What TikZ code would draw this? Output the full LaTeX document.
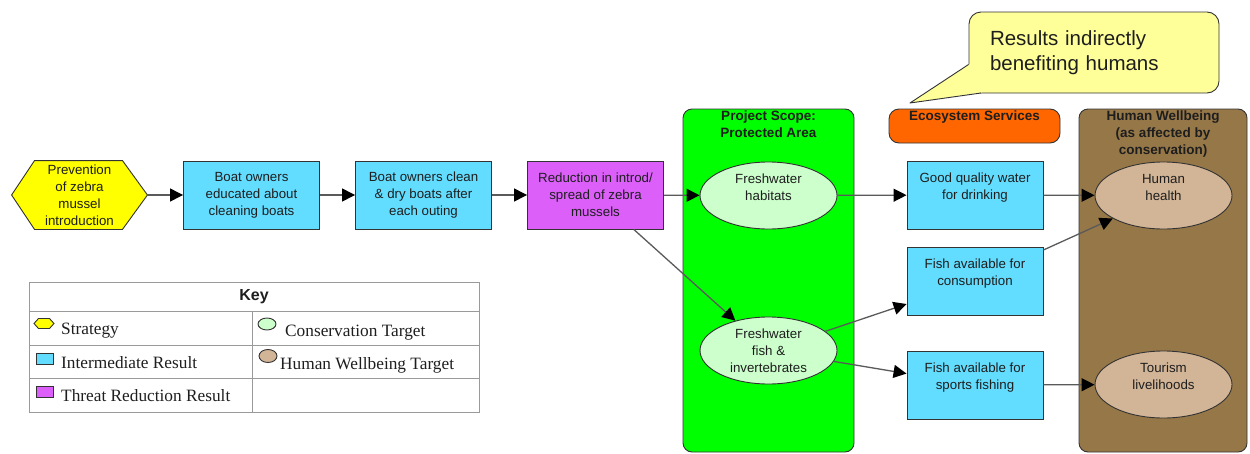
\documentclass[tikz,border=0pt]{standalone}
\usepackage{fontspec}
\setmainfont{Liberation Serif}
\setsansfont{Liberation Sans}
\usetikzlibrary{arrows.meta,calc,shapes.geometric,backgrounds}

\definecolor{stratyellow}{HTML}{FFFF00}
\definecolor{resblue}{HTML}{63DDFF}
\definecolor{threatpink}{HTML}{DC5FFA}
\definecolor{scopegreen}{HTML}{00FF00}
\definecolor{targetgreen}{HTML}{CCFFCC}
\definecolor{ecoorange}{HTML}{FF6600}
\definecolor{wellbrown}{HTML}{967748}
\definecolor{welltan}{HTML}{D2B496}
\definecolor{calloutyellow}{HTML}{FFFF99}
\definecolor{edgegray}{HTML}{333333}
\definecolor{linkgray}{HTML}{5A5A5A}
\definecolor{keygray}{HTML}{9A9A9A}
\definecolor{inktext}{HTML}{1E1E1E}

\begin{document}
\begin{tikzpicture}[x=1pt,y=-1pt,
  base/.style={draw=edgegray, line width=0.9pt, align=center, inner sep=0pt,
    text=inktext, font=\sffamily\fontsize{13.3}{17}\selectfont},
  result/.style={base, rectangle, fill=resblue, minimum width=136pt, minimum height=68pt},
  threat/.style={result, fill=threatpink},
  target/.style={base, ellipse, fill=targetgreen, minimum width=137pt, minimum height=67pt},
  wellbeing/.style={target, fill=welltan},
  region/.style={draw=edgegray, line width=0.9pt, rounded corners=9pt, inner sep=0pt},
  regiontitle/.style={align=center, inner sep=2pt, text=inktext,
    font=\sffamily\bfseries\fontsize{13.5}{17}\selectfont},
  link/.style={draw=linkgray, line width=1.3pt,
    -{Triangle[length=13pt,width=13pt,color=black]}},
  keytext/.style={anchor=base west, inner sep=0pt, text=inktext,
    font=\rmfamily\fontsize{17.3}{20}\selectfont},
  keyicon/.style={draw=edgegray, line width=0.9pt}
]
\useasboundingbox (0,0) rectangle (1250,453);

% grouping regions
\node[region, fill=scopegreen, minimum width=171pt, minimum height=343pt] (scope) at (768.5,280.5) {};
\node[regiontitle, anchor=north] (scopetitle) at (scope.north) {Project Scope:\\Protected Area};
\node[region, fill=ecoorange, rounded corners=10pt, minimum width=171pt, minimum height=34pt] (eco) at (974.5,126) {};
\node[regiontitle, anchor=north] (ecotitle) at (eco.north) {Ecosystem Services};
\node[region, fill=wellbrown, minimum width=168pt, minimum height=343pt] (well) at (1163,280.5) {};
\node[regiontitle, anchor=north] (welltitle) at (well.north) {Human Wellbeing\\(as affected by\\conservation)};

% callout
\node[draw=edgegray, line width=0.9pt, fill=calloutyellow, rounded corners=12pt,
  minimum width=250pt, minimum height=81pt, text width=208pt, align=left, inner sep=0pt,
  text=inktext, font=\sffamily\fontsize{20.5}{25}\selectfont] (callout) at (1094,52.5)
  {Results indirectly\\benefiting humans\\[-5pt]};
\coordinate (calltip) at (910,103);
\fill[calloutyellow] ($(callout.west)+(0.6,12)$) -- (calltip) -- (982,92.4) -- (982,61) -- cycle;
\draw[edgegray, line width=0.9pt, line join=round] ($(callout.west)+(0,12)$) -- (calltip) -- (981,93);

% strategy
\node[base, draw=none, minimum width=135pt, minimum height=68pt] (strat) at (79.5,195)
  {Prevention\\of zebra\\mussel\\introduction};
\begin{scope}[on background layer]
  \draw[fill=stratyellow, draw=edgegray, line width=0.9pt]
    (strat.west) -- ($(strat.north west)+(23,0)$) -- ($(strat.north east)+(-25,0)$)
    -- (strat.east) -- ($(strat.south east)+(-25,0)$) -- ($(strat.south west)+(23,0)$) -- cycle;
\end{scope}

% results chain
\node[result] (educ) at (251.5,195) {Boat owners\\educated about\\cleaning boats};
\node[result] (clean) at (423.5,195) {Boat owners clean\\\& dry boats after\\each outing};
\node[threat] (reduce) at (595.5,195) {Reduction in introd/\\spread of zebra\\mussels};

% conservation targets
\node[target] (habitats) at (768.5,195.5) {Freshwater\\habitats\\\mbox{}};
\node[target] (fish) at (768.5,350.5) {Freshwater\\fish \&\\invertebrates};

% ecosystem services
\node[result] (water) at (975,195) {Good quality water\\for drinking\\\mbox{}};
\node[result] (consume) at (975,281) {Fish available for\\consumption\\\mbox{}};
\node[result] (sport) at (975,385) {Fish available for\\sports fishing\\\mbox{}};

% human wellbeing targets
\node[wellbeing] (health) at (1163.5,195.5) {Human\\health\\\mbox{}};
\node[wellbeing] (tourism) at (1163.5,384.5) {Tourism\\livelihoods\\\mbox{}};

% links
\draw[link] (strat.east) -- (educ);
\draw[link] (educ) -- (clean);
\draw[link] (clean) -- (reduce);
\draw[link] (reduce) -- (habitats);
\draw[link] (reduce) -- (fish);
\draw[link] (habitats) -- (water);
\draw[link] (water) -- (health);
\draw[link] (fish) -- (consume);
\draw[link] (fish) -- (sport);
\draw[link] (consume) -- (health);
\draw[link] (sport) -- (tourism);

% key
\draw[keygray, line width=1pt] (29,282) rectangle (479,412);
\draw[keygray, line width=1pt] (29,311) -- (479,311) (29,345) -- (479,345) (29,378) -- (479,378)
  (252,311) -- (252,412);
\node[inner sep=0pt, text=inktext, font=\sffamily\bfseries\fontsize{16}{19}\selectfont] (keyhead) at (254,296.5) {Key};

\draw[keyicon, fill=stratyellow] (34,323.5) -- (38.5,318.5) -- (49.5,318.5) -- (54,323.5) -- (49.5,328.5) -- (38.5,328.5) -- cycle;
\node[keytext] (kstrat) at (61,334) {Strategy};
\draw[keyicon, fill=resblue] (36,353) rectangle (53,364);
\node[keytext] (kres) at (61,368) {Intermediate Result};
\draw[keyicon, fill=threatpink] (36,386) rectangle (53,397);
\node[keytext] (kthreat) at (61,401) {Threat Reduction Result};
\draw[keyicon, fill=targetgreen] (267,324) ellipse [x radius=9, y radius=6];
\node[keytext] (ktarget) at (285,336) {Conservation Target};
\draw[keyicon, fill=welltan] (268,356) ellipse [x radius=9, y radius=6.5];
\node[keytext] (kwell) at (280,369) {Human Wellbeing Target};
\end{tikzpicture}
\end{document}
